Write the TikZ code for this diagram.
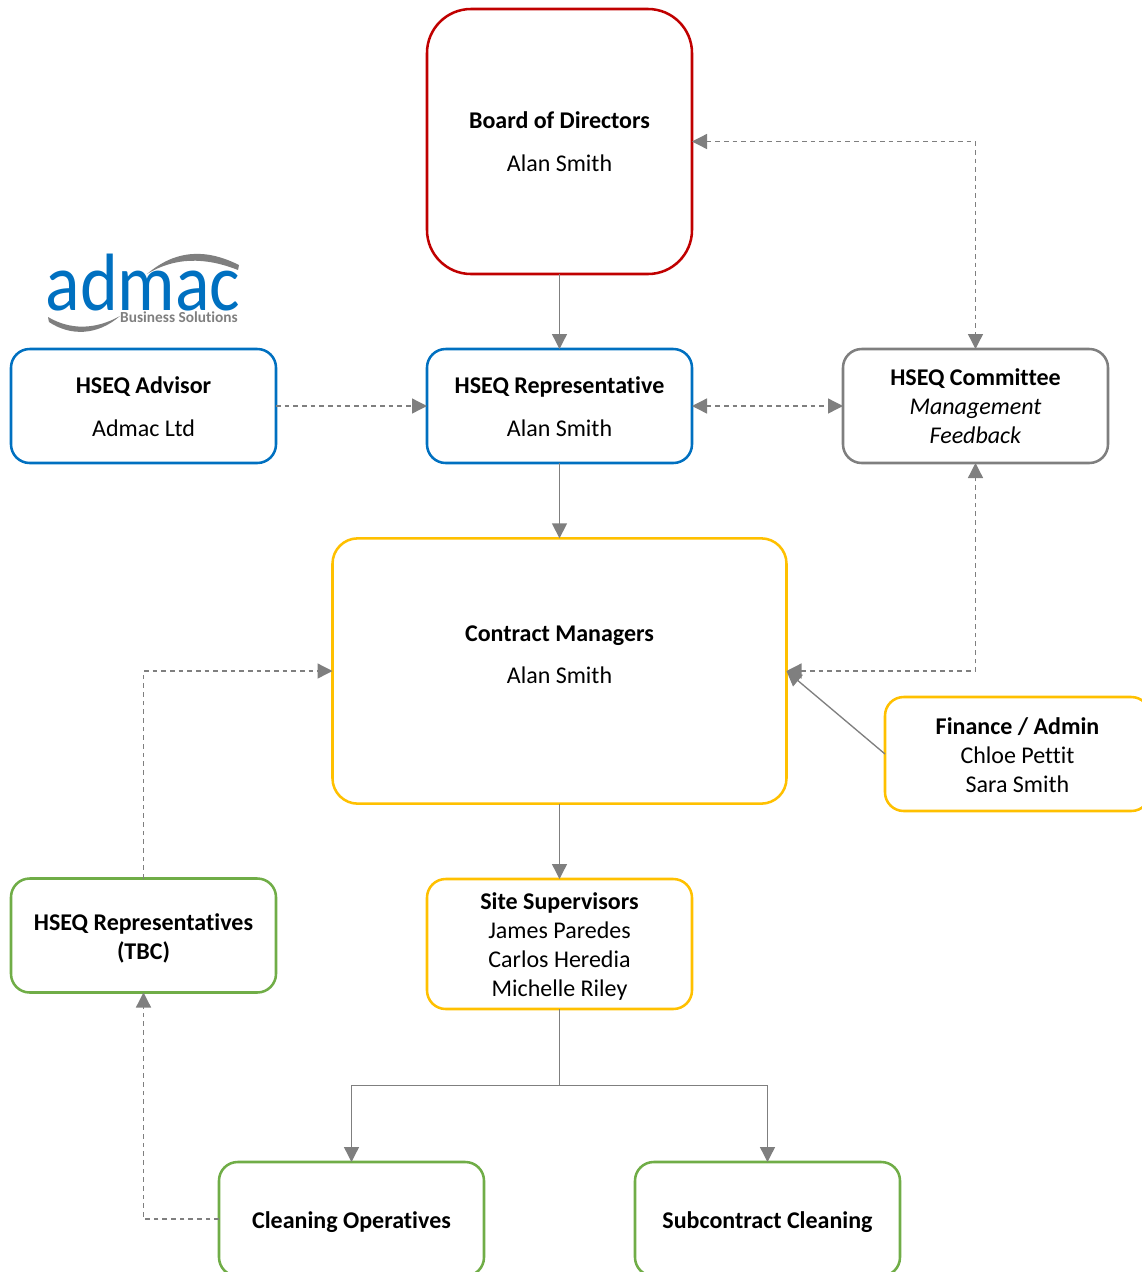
\documentclass[tikz,border=0pt]{standalone}
\usepackage{fontspec}
\setmainfont{Carlito}[Ligatures=CommonOff]
\newfontfamily\logofont{Carlito}[Ligatures=CommonOff]
\usetikzlibrary{arrows.meta,positioning}
\definecolor{boxred}{HTML}{C00000}
\definecolor{boxblue}{HTML}{0070C0}
\definecolor{boxyellow}{HTML}{FFC000}
\definecolor{boxgreen}{HTML}{70AD47}
\definecolor{boxgrey}{HTML}{7F7F7F}
\newcommand{\toplow}{\rule{0pt}{13.8pt}}
\newcommand{\toplower}{\rule{0pt}{16.8pt}}
\tikzset{
  orgbox/.style={rectangle,draw,line width=1.9pt,rounded corners=14pt,align=center,outer sep=0pt,inner sep=0pt,
    minimum width=198.75pt,minimum height=85.5pt,font=\fontsize{18}{21.75}\selectfont},
  link/.style={draw=boxgrey,line width=1pt,-{Triangle[length=11.25pt,width=11.25pt]}},
  twoway/.style={link,{Triangle[length=11.25pt,width=11.25pt]}-{Triangle[length=11.25pt,width=11.25pt]}},
  linkdash/.style={dash pattern=on 3.5pt off 3pt}
}
\begin{document}
\begin{tikzpicture}[x=0.75pt,y=-0.75pt]
   \useasboundingbox (0,0) rectangle (1142,1272);
   % logo
   \fill[boxgrey] (147,274) .. controls (175,250) and (205,248) .. (239,265) -- (238,270) .. controls (205,257) and (175,257) .. (147,274) -- cycle;
   \fill[boxgrey] (48,317) .. controls (70,330) and (95,330) .. (120,316) .. controls (97,336) and (70,336) .. (49,322) -- cycle;
   \node (logoword) [text=boxblue,font=\logofont\fontsize{61}{61}\selectfont,inner sep=0pt,anchor=base,xscale=0.885] at (143,310) {admac};
   \node (logosub) [text=boxgrey,font=\bfseries\fontsize{11.5}{12}\selectfont,inner sep=0pt,anchor=base] at (179,322) {Business Solutions};
   % boxes
   \begin{scope}[every node/.append style={orgbox}]
    \node (board) [draw=boxred,rounded corners=33pt,minimum height=198.75pt] at (559.5,141.5) {\textbf{Board of Directors}\\[10.5pt]Alan Smith};
    \node (advisor) [draw=boxblue] at (143.5,406) {\toplow\textbf{HSEQ Advisor}\\[10pt]Admac Ltd};
    \node (rep) [draw=boxblue] at (559.5,406) {\toplow\textbf{HSEQ Representative}\\[10pt]Alan Smith};
    \node (committee) [draw=boxgrey] at (975.5,406) {\textbf{HSEQ Committee}\\\textit{Management}\\\textit{Feedback}};
    \node (contract) [draw=boxyellow,rounded corners=19pt,minimum width=340.5pt,minimum height=199pt] at (559.5,671) {\toplow\textbf{Contract Managers}\\[9.75pt]Alan Smith\\[5.25pt]~};
    \node (finance) [draw=boxyellow] at (1017.5,754) {\toplow\textbf{Finance / Admin}\\Chloe Pettit\\Sara Smith};
    \node (site) [draw=boxyellow,minimum height=97.5pt] at (559.5,944) {\toplower\textbf{Site Supervisors}\\James Paredes\\Carlos Heredia\\Michelle Riley};
    \node (reps) [draw=boxgreen] at (143.5,935.5) {\toplower\textbf{HSEQ Representatives}\\\textbf{(TBC)}};
    \node (cleaning) [draw=boxgreen] at (351.5,1219) {\toplower\textbf{Cleaning Operatives}};
    \node (subcontract) [draw=boxgreen] at (767.5,1219) {\toplower\textbf{Subcontract Cleaning}};
   \end{scope}
   \coordinate (split) at (559.5,1085.5);
   % connectors
   \begin{scope}[every path/.append style={link}]
    \draw (board) -- (rep);
    \draw (rep) -- (contract);
    \draw (contract) -- (site);
    \draw (finance.west) -- (contract.east);
    \draw[-] (site) -- (split);
    \draw (split) -| (cleaning.north);
    \draw (split) -| (subcontract.north);
    \draw[linkdash] (advisor) -- (rep);
    \draw[linkdash] (reps.north) |- (contract.west);
    \draw[linkdash] (cleaning.west) -| (reps.south);
    \draw[twoway,linkdash] (rep) -- (committee);
    \draw[twoway,linkdash] (board.east) -| (committee.north);
    \draw[twoway,linkdash] (contract.east) -| (committee.south);
   \end{scope}
\end{tikzpicture}
\end{document}
